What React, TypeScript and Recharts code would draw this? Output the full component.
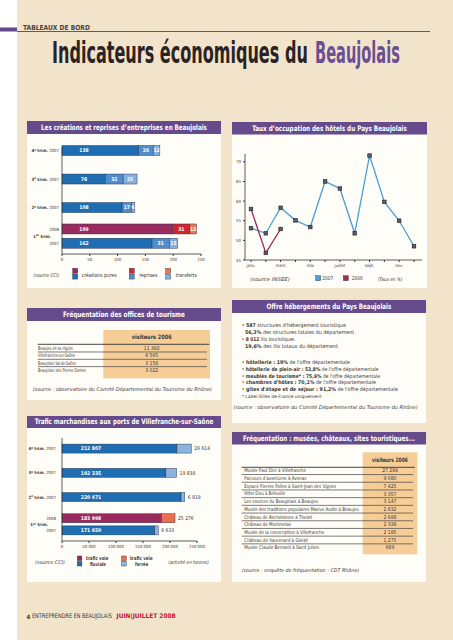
import React from 'react';
import { BarChart, Bar, XAxis, YAxis, LineChart, Line, Cell, LabelList } from 'recharts';

const FONT = "'Liberation Sans Narrow', 'DejaVu Sans Condensed', 'Open Sans', 'Liberation Sans', sans-serif";
const BEIGE = '#f2e4cb';
const PANEL = '#fffdf8';
const PURPLE = '#664b8c';
const ORANGE = '#f6cd97';
const TEXT = '#3b3535';

// ---------- Data: créations et reprises d'entreprises ----------
const creationQuarters = ['4e trim.', '3e trim.', '2e trim.', '1er trim.', '1er trim.'];
const creationYears = ['2007', '2007', '2007', '2008', '2007'];
const creationsPures = [138, 78, 108, 199, 162];
const reprisesValues = [26, 32, 17, 31, 31];
const transfertsValues = [12, 25, 6, 12, 15];
const creationTicks = [0, 50, 100, 150, 200, 250];

// ---------- Data: taux d'occupation ----------
const monthNames = ['janv.', 'févr.', 'mars', 'avr.', 'mai', 'juin', 'juillet', 'août', 'sept.', 'oct.', 'nov.', 'déc.'];
const monthTickLabels = ['janv.', '', 'mars', '', 'mai', '', 'juillet', '', 'sept.', '', 'nov.', ''];
const taux2007 = [53.1, 51.8, 58.3, 55.1, 53.4, 65.0, 63.2, 51.8, 71.6, 59.8, 55.0, 48.5];
const taux2008 = [58.0, 46.8, 52.9];
const tauxTicks = [45, 50, 55, 60, 65, 70];

// ---------- Data: offices de tourisme ----------
const officeNames = ['Beaujeu et sa région', 'Villefranche-sur-Saône', 'Beaujolais Val-de-Saône', 'Beaujolais des Pierres Dorées'];
const officeVisitors = [11392, 8565, 3158, 3022];

// ---------- Data: trafic marchandises ----------
const traficQuarters = ['4e trim.', '3e trim.', '2e trim.', '1er trim.', '1er trim.'];
const traficYears = ['2007', '2007', '2007', '2008', '2007'];
const voieFluviale = [212807, 192335, 220471, 183998, 171650];
const voieFerree = [26614, 19838, 6919, 25276, 6633];
const traficTicks = [0, 50000, 100000, 150000, 200000, 250000];

// ---------- Data: sites touristiques ----------
const siteNames = [
  'Musée Paul Dini à Villefranche',
  "Parcours d'aventures à Avenas",
  'Espace Pierres Folles à Saint-Jean des Vignes',
  'Hôtel Dieu à Belleville',
  'Les sources du Beaujolais à Beaujeu',
  'Musée des traditions populaires Marius Audin à Beaujeu',
  'Château de Rochebonne à Theizé',
  'Château de Montmelas',
  'Musée de la conscription à Villefranche',
  'Château de Vaurenard à Gleizé',
  'Musée Claude Bernard à Saint Julien',
];
const siteVisitors = [27284, 9080, 7425, 3357, 3147, 2832, 2688, 2338, 2185, 1275, 689];

// ---------- layout constants (not data) ----------
const siteLabelWidths = [62, 62, 92, 41, 74, 115, 68, 47, 80, 64, 75];
const officeLabelWidths = [35, 37, 38, 48];
const creationGaps = [3, 3, 2, 1];
const traficGaps = [7, 7, 6, 3];

const fmt = (n: number) => String(n).replace(/\B(?=(\d{3})+(?!\d))/g, ' ');

const COL = {
  '2007': { a: '#1f6db2', b: '#4f8dcc', c: '#88aedb' },
  '2008': { a: '#992b5f', b: '#d2262d', c: '#e8775a' },
} as any;

function buildSlots(count: number, lead: number, gaps: number[], tail: number) {
  const out: number[] = [];
  for (let i = 0; i < lead; i++) out.push(-1);
  for (let i = 0; i < count; i++) {
    out.push(i);
    if (i < count - 1) for (let j = 0; j < gaps[i]; j++) out.push(-1);
  }
  for (let i = 0; i < tail; i++) out.push(-1);
  return out;
}

const creationRows = buildSlots(5, 0, creationGaps, 1).map((idx, s) =>
  idx < 0
    ? { slot: 's' + s }
    : { slot: 's' + s, idx, pures: creationsPures[idx], reprises: reprisesValues[idx], transferts: transfertsValues[idx] }
);

const traficRows = buildSlots(5, 3, traficGaps, 3).map((idx, s) =>
  idx < 0 ? { slot: 't' + s } : { slot: 't' + s, idx, fluviale: voieFluviale[idx], ferree: voieFerree[idx] }
);

const tauxRows = monthNames.map((m, i) => ({ month: m, t2007: taux2007[i], t2008: i < taux2008.length ? taux2008[i] : null }));

const QuarterSpans = ({ q }: { q: string }) => {
  const m = q.match(/^(\d+)(\S+)\s(.*)$/);
  if (!m) return <tspan>{q}</tspan>;
  return (
    <>
      <tspan fontWeight="bold">{m[1]}</tspan>
      <tspan fontSize="70%" dy={-1.3} fontWeight="bold">{m[2]}</tspan>
      <tspan dy={1.3} fontWeight="bold">{' ' + m[3]}</tspan>
    </>
  );
};

function makePeriodTick(rows: any[], quarters: string[], years: string[], gaps: number[], unit: number) {
  return (props: any) => {
    const { x, y, payload } = props;
    const row = rows.find((r) => r.slot === payload.value);
    if (!row || row.idx == null) return <g />;
    const i = row.idx;
    const grouped = (i + 1 < quarters.length && quarters[i + 1] === quarters[i]) || (i > 0 && quarters[i - 1] === quarters[i]);
    const first = i + 1 < quarters.length && quarters[i + 1] === quarters[i];
    if (!grouped) {
      return (
        <text x={x} y={y} dy={1.5} textAnchor="end" fontSize={4.3} fill={TEXT} fontFamily={FONT}>
          <QuarterSpans q={quarters[i]} />
          <tspan>{' ' + years[i]}</tspan>
        </text>
      );
    }
    return (
      <g>
        <text x={x} y={y} dy={1.5} textAnchor="end" fontSize={4.3} fill={TEXT} fontFamily={FONT}>{years[i]}</text>
        {first ? (
          <text x={x - 8} y={y + ((gaps[i] + 1) * unit) / 2} dy={1.5} textAnchor="end" fontSize={4.3} fill={TEXT} fontFamily={FONT}>
            <QuarterSpans q={quarters[i]} />
          </text>
        ) : null}
      </g>
    );
  };
}

const thickShape = (thick: number) => (p: any) => {
  if (!p.width || p.width <= 0 || p.y == null) return <g />;
  const cy = p.y + p.height / 2;
  return <rect x={p.x} y={cy - thick / 2} width={p.width} height={thick} fill={p.fill} stroke="#22324a" strokeWidth={0.45} />;
};

// dx < 0 => centred on the segment, otherwise centred at a fixed distance from the segment start
const insideLabel = (dx: number) => (p: any) => {
  const { x, y, width, height, value } = p;
  if (value == null || !width) return <g />;
  const tx = dx < 0 ? x + width / 2 : x + dx;
  return (
    <text x={tx} y={y + height / 2} dy={1.7} textAnchor="middle" fontSize={5} fontWeight="bold" fill="#ffffff" fontFamily={FONT}>
      {typeof value === 'number' && value >= 1000 ? fmt(value) : value}
    </text>
  );
};

const outsideLabel = (p: any) => {
  const { x, y, width, height, value } = p;
  if (value == null || !width) return <g />;
  return (
    <text x={x + width + 3} y={y + height / 2} dy={1.7} textAnchor="start" fontSize={5} fill={TEXT} fontFamily={FONT}>
      {fmt(value)}
    </text>
  );
};

const SquareDot = (p: any) => {
  const { cx, cy, index, value } = p;
  if (cy == null || value == null || Number.isNaN(cy)) return <g key={'n' + index} />;
  return <rect key={'d' + index} x={cx - 1.8} y={cy - 1.8} width={3.6} height={3.6} fill="#5d5d68" stroke="#1e1e28" strokeWidth={0.6} />;
};

const axisTick = { fontSize: 4.3, fill: TEXT, fontFamily: FONT };
const axisLine = { stroke: '#333', strokeWidth: 0.8 };

// Text that is horizontally scaled (about its anchor x) to a measured target width.
type TP = { x: number; y: number; w?: number; size?: number; bold?: boolean; italic?: boolean; fill?: string; anchor?: string; children?: any };
const T = ({ x, y, w, size = 5, bold, italic, fill = TEXT, anchor = 'start', children }: TP) => {
  const ref = React.useRef<SVGTextElement>(null);
  React.useLayoutEffect(() => {
    const el = ref.current;
    if (!el || !w) return;
    el.removeAttribute('transform');
    const nat = el.getComputedTextLength();
    if (nat > 0) {
      const s = w / nat;
      el.setAttribute('transform', `translate(${x} 0) scale(${s} 1) translate(${-x} 0)`);
    }
  });
  return (
    <text
      ref={ref}
      x={x}
      y={y}
      fontSize={size}
      fontWeight={bold ? 'bold' : 'normal'}
      fontStyle={italic ? 'italic' : 'normal'}
      fill={fill}
      textAnchor={anchor as any}
    >
      {children}
    </text>
  );
};

const Panel = ({ x, y, w, h, hh, title, tw, tb }: any) => (
  <g>
    <rect x={x} y={y} width={w} height={h} fill={PANEL} />
    <rect x={x} y={y} width={w} height={hh} fill={PURPLE} />
    <T x={x + w / 2} y={tb} w={tw} size={7.5} bold fill="#ffffff" anchor="middle">{title}</T>
  </g>
);

const Pair = ({ x, y, top, bottom, s = 5 }: any) => (
  <g>
    <rect x={x} y={y} width={s} height={s} fill={top} stroke="#333" strokeWidth={0.4} />
    <rect x={x} y={y + s + 0.8} width={s} height={s} fill={bottom} stroke="#333" strokeWidth={0.4} />
  </g>
);

const offreLines = [
  { b: true, strong: '587', rest: " structures d'hébergement touristique", w: 104 },
  { b: false, strong: '56,3%', rest: ' des structures totales du département', w: 109 },
  { b: true, strong: '8 012', rest: ' lits touristiques', w: 53 },
  { b: false, strong: '19,6%', rest: ' des lits totaux du département', w: 93 },
  { b: true, strong: 'hôtellerie : 19%', rest: " de l'offre départementale", w: 108 },
  { b: true, strong: 'hôtellerie de plein-air : 53,8%', rest: " de l'offre départementale", w: 137 },
  { b: true, strong: 'meublés de tourisme* : 75,6%', rest: " de l'offre départementale", w: 138 },
  { b: true, strong: "chambres d'hôtes : 70,1%", rest: " de l'offre départementale", w: 134 },
  { b: true, strong: "gîtes d'étape et de séjour : 91,2%", rest: " de l'offre départementale", w: 156 },
];
const offreY = [325, 332.7, 339.3, 346.7, 362.7, 369.3, 376, 382.7, 389.3];

export default function App() {
  const creationUnit = 107 / creationRows.length;
  const traficUnit = 103 / traficRows.length;
  const CreationTick = makePeriodTick(creationRows, creationQuarters, creationYears, creationGaps, creationUnit);
  const TraficTick = makePeriodTick(traficRows, traficQuarters, traficYears, traficGaps, traficUnit);

  return (
    <div style={{ position: 'absolute', left: 0, top: 0, width: 453, height: 640, overflow: 'hidden', background: '#fff', fontFamily: FONT }}>
      <svg width={453} height={640} style={{ position: 'absolute', left: 0, top: 0 }} fontFamily={FONT}>
        <rect x={0} y={0} width={453} height={640} fill="#ffffff" />
        <rect x={17} y={0} width={436} height={640} fill={BEIGE} />
        <rect x={0} y={27.5} width={17} height={4} fill={PURPLE} />
        <line x1={17} y1={31.5} x2={430} y2={31.5} stroke="#3a3a3a" strokeWidth={0.8} />
        <T x={23} y={30} w={67} size={7} bold fill="#4a4545">TABLEAUX DE BORD</T>
        <T x={52} y={62.7} w={256} size={30} bold fill="#2b2323">Indicateurs économiques du</T>
        <T x={315} y={62.7} w={85} size={30} bold fill="#6a4f94">Beaujolais</T>

        {/* Panels */}
        <Panel x={27} y={121} w={194} h={167} hh={13} tb={130.5} tw={166} title="Les créations et reprises d’entreprises en Beaujolais" />
        <Panel x={232} y={122} w={195} h={166} hh={12.5} tb={131} tw={155} title="Taux d’occupation des hôtels du Pays Beaujolais" />
        <Panel x={27} y={308} w={194} h={92} hh={13} tb={317.5} tw={122} title="Fréquentation des offices de tourisme" />
        <Panel x={27} y={416} w={194} h={166} hh={12} tb={424.5} tw={179} title="Trafic marchandises aux ports de Villefranche-sur-Saône" />
        <Panel x={232} y={300} w={194} h={123} hh={13} tb={309.5} tw={125} title="Offre hébergements du Pays Beaujolais" />
        <Panel x={232} y={432} w={194} h={150} hh={12.5} tb={441} tw={172} title="Fréquentation : musées, châteaux, sites touristiques..." />

        {/* Legend chart 1 */}
        <T x={33.3} y={277.5} w={26} size={5} italic>(source CCI)</T>
        <Pair x={72.7} y={268.3} top={COL['2008'].a} bottom={COL['2007'].a} />
        <T x={81.7} y={277.5} w={35} size={5.5}>créations pures</T>
        <Pair x={129.3} y={268.3} top={COL['2008'].b} bottom={COL['2007'].b} />
        <T x={139.3} y={277.5} w={18} size={5.5}>reprises</T>
        <Pair x={165.7} y={268.3} top={COL['2008'].c} bottom={COL['2007'].c} />
        <T x={175.7} y={277.5} w={21} size={5.5}>transferts</T>

        {/* Legend chart 2 */}
        <T x={250} y={281} w={40} size={5} italic>(source INSEE)</T>
        <rect x={315.7} y={275.7} width={5} height={5} fill="#4a9fd6" stroke="#333" strokeWidth={0.4} />
        <T x={322.3} y={280.5} w={11} size={5.5}>2007</T>
        <rect x={343.3} y={275.7} width={5} height={5} fill="#9b2c5e" stroke="#333" strokeWidth={0.4} />
        <T x={351.7} y={280.5} w={11} size={5.5}>2008</T>
        <T x={377.7} y={281} w={24.6} size={5} italic>(Taux en %)</T>

        {/* Table offices */}
        <rect x={103.3} y={330} width={106.7} height={48.3} fill={ORANGE} />
        <T x={151.7} y={339.3} w={40} size={6} bold anchor="middle">visiteurs 2006</T>
        <line x1={37.7} y1={344.3} x2={209.3} y2={344.3} stroke="#333" strokeWidth={0.9} />
        {officeNames.map((n, i) => {
          const cy = 348.3 + i * 7.33;
          return (
            <g key={n}>
              <T x={38} y={cy + 1.7} w={officeLabelWidths[i]} size={5}>{n}</T>
              <T x={151.7} y={cy + 1.7} size={5} anchor="middle">{fmt(officeVisitors[i])}</T>
              {i < officeNames.length - 1 ? <line x1={37.7} y1={cy + 3.67} x2={207} y2={cy + 3.67} stroke="#444" strokeWidth={0.7} /> : null}
            </g>
          );
        })}
        <T x={32.7} y={391} w={179.6} size={5} italic>(source : observatoire du Comité Départemental du Tourisme du Rhône)</T>

        {/* Legend chart 4 */}
        <T x={35} y={564.5} w={30} size={5} italic>(source CCI)</T>
        <Pair x={77.3} y={556} s={4.6} top={COL['2008'].a} bottom={COL['2007'].a} />
        <T x={97.2} y={560} w={22.3} size={5.2} bold anchor="middle">trafic voie</T>
        <T x={98} y={566} w={16} size={5.2} bold anchor="middle">fluviale</T>
        <Pair x={121.7} y={556} s={4.6} top="#e8704c" bottom="#8db2dc" />
        <T x={141.3} y={560} w={22.7} size={5.2} bold anchor="middle">trafic voie</T>
        <T x={141.7} y={566} w={13.3} size={5.2} bold anchor="middle">ferrée</T>
        <T x={168.3} y={564.5} w={40.7} size={5} italic>(activité en tonnes)</T>

        {/* Offre hébergements */}
        {offreLines.map((l, i) => (
          <T key={i} x={l.b ? 241.7 : 245} y={offreY[i] + 1.8} w={l.w} size={5.2}>
            {(l.b ? '•  ' : '')}
            <tspan fontWeight="bold">{l.strong}</tspan>
            {l.rest}
          </T>
        ))}
        <T x={241.7} y={398.3} w={80} size={4.5} italic>* Label Gîtes de France uniquement</T>
        <T x={233.3} y={409} w={185} size={5} italic>(source : observatoire du Comité Départemental du Tourisme du Rhône)</T>

        {/* Table sites */}
        <rect x={362.7} y={452.3} width={54.6} height={102} fill={ORANGE} />
        <T x={390} y={462} w={36} size={6} bold anchor="middle">visiteurs 2006</T>
        <line x1={241.7} y1={467.3} x2={415} y2={467.3} stroke="#333" strokeWidth={0.9} />
        {siteNames.map((n, i) => {
          const cy = 470.7 + i * 7.7;
          return (
            <g key={n}>
              <T x={244.3} y={cy + 1.7} w={siteLabelWidths[i]} size={5}>{n}</T>
              <T x={390} y={cy + 1.7} size={5} anchor="middle">{fmt(siteVisitors[i])}</T>
              {i < siteNames.length - 1 ? <line x1={241.7} y1={cy + 3.85} x2={413} y2={cy + 3.85} stroke="#444" strokeWidth={0.7} /> : null}
            </g>
          );
        })}
        <T x={241.7} y={572.5} w={117.6} size={5} italic>(source : enquête de fréquentation - CDT Rhône)</T>

        {/* Footer */}
        <T x={26.5} y={618.5} size={6} bold fill="#333">4</T>
        <T x={32} y={618.5} w={80} size={6.3} fill="#333">ENTREPRENDRE EN BEAUJOLAIS</T>
        <T x={116.5} y={618.5} w={59.2} size={6.3} bold fill="#c3162f">JUIN|JUILLET 2008</T>
      </svg>

      {/* Chart 1: créations et reprises */}
      <div style={{ position: 'absolute', left: 27, top: 140 }}>
        <BarChart width={194} height={126} data={creationRows} layout="vertical" margin={{ top: 7, right: 20, bottom: 0, left: 0 }} barCategoryGap={0}>
          <XAxis type="number" domain={[0, 250]} ticks={creationTicks} interval={0} height={12} tick={axisTick} tickSize={2} tickLine={{ stroke: '#333' }} axisLine={axisLine} />
          <YAxis type="category" dataKey="slot" width={35} interval={0} axisLine={axisLine} tickLine={false} tickSize={0} tickMargin={3} tick={CreationTick} />
          <Bar dataKey="pures" stackId="c" isAnimationActive={false} shape={thickShape(10)}>
            {creationRows.map((r: any, i) => <Cell key={i} fill={r.idx != null ? COL[creationYears[r.idx]].a : '#000'} />)}
            <LabelList dataKey="pures" content={insideLabel(22)} />
          </Bar>
          <Bar dataKey="reprises" stackId="c" isAnimationActive={false} shape={thickShape(10)}>
            {creationRows.map((r: any, i) => <Cell key={i} fill={r.idx != null ? COL[creationYears[r.idx]].b : '#000'} />)}
            <LabelList dataKey="reprises" content={insideLabel(-1)} />
          </Bar>
          <Bar dataKey="transferts" stackId="c" isAnimationActive={false} shape={thickShape(10)}>
            {creationRows.map((r: any, i) => <Cell key={i} fill={r.idx != null ? COL[creationYears[r.idx]].c : '#000'} />)}
            <LabelList dataKey="transferts" content={insideLabel(-1)} />
          </Bar>
        </BarChart>
      </div>

      {/* Chart 2: taux d'occupation */}
      <div style={{ position: 'absolute', left: 232, top: 145 }}>
        <LineChart width={195} height={127} data={tauxRows} margin={{ top: 9, right: 5, bottom: 0, left: 0 }}>
          <XAxis dataKey="month" interval={0} padding={{ left: 6, right: 8 }} height={12} tick={axisTick} tickSize={2} tickLine={{ stroke: '#333' }} axisLine={axisLine} tickFormatter={(v: any, i: number) => monthTickLabels[i]} />
          <YAxis type="number" domain={[45, 72]} ticks={tauxTicks} interval={0} width={13} tick={axisTick} tickSize={2} tickLine={{ stroke: '#333' }} axisLine={axisLine} />
          <Line dataKey="t2007" stroke="#4a9fd6" strokeWidth={1.3} dot={SquareDot} activeDot={false} isAnimationActive={false} />
          <Line dataKey="t2008" stroke="#9b2c5e" strokeWidth={1.3} dot={SquareDot} activeDot={false} isAnimationActive={false} />
        </LineChart>
      </div>

      {/* Chart 4: trafic marchandises */}
      <div style={{ position: 'absolute', left: 27, top: 430 }}>
        <BarChart width={194} height={123} data={traficRows} layout="vertical" margin={{ top: 8, right: 24, bottom: 0, left: 0 }} barCategoryGap={0}>
          <XAxis type="number" domain={[0, 250000]} ticks={traficTicks} interval={0} height={12} tick={axisTick} tickSize={2} tickLine={{ stroke: '#333' }} axisLine={axisLine} tickFormatter={(v: number) => fmt(v)} />
          <YAxis type="category" dataKey="slot" width={35} interval={0} axisLine={axisLine} tickLine={false} tickSize={0} tickMargin={6} tick={TraficTick} />
          <Bar dataKey="fluviale" stackId="t" isAnimationActive={false} shape={thickShape(9)}>
            {traficRows.map((r: any, i) => <Cell key={i} fill={r.idx != null ? COL[traficYears[r.idx]].a : '#000'} />)}
            <LabelList dataKey="fluviale" content={insideLabel(29)} />
          </Bar>
          <Bar dataKey="ferree" stackId="t" isAnimationActive={false} shape={thickShape(9)}>
            {traficRows.map((r: any, i) => <Cell key={i} fill={r.idx != null ? (traficYears[r.idx] === '2008' ? '#e8704c' : '#8db2dc') : '#000'} />)}
            <LabelList dataKey="ferree" content={outsideLabel} />
          </Bar>
        </BarChart>
      </div>
    </div>
  );
}
